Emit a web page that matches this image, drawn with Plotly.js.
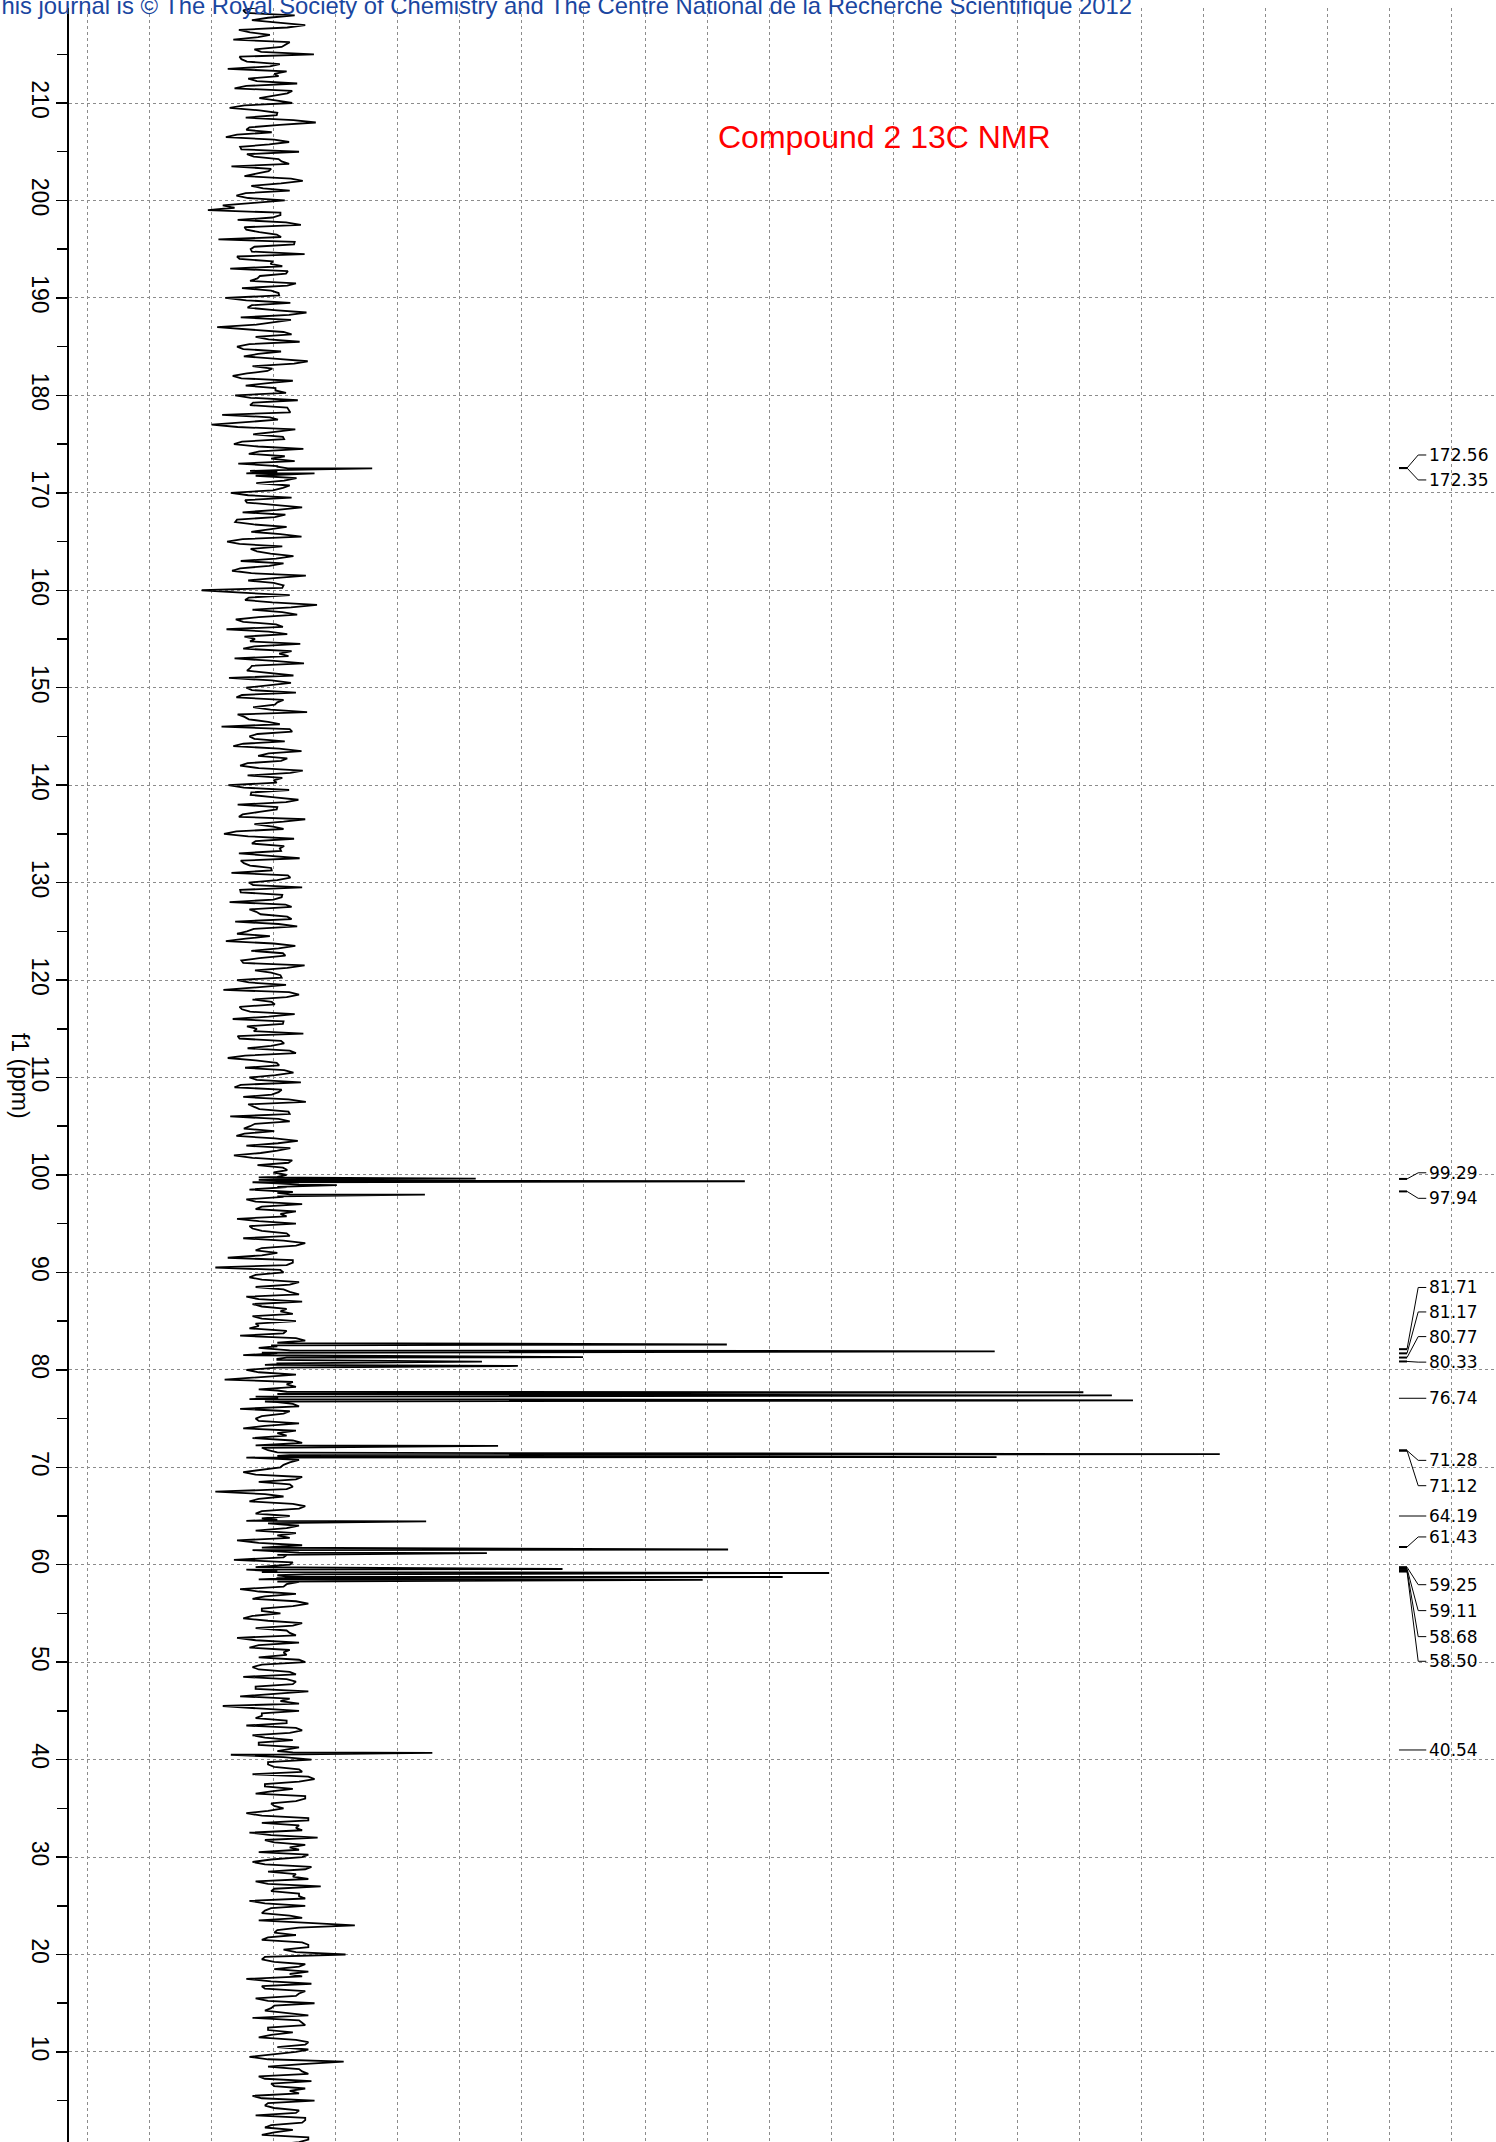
<!DOCTYPE html>
<html>
<head>
<meta charset="utf-8">
<script src="https://cdn.plot.ly/plotly-3.0.1.min.js"></script>
<style>
  html, body { margin: 0; padding: 0; background: #ffffff; }
  #chart { width: 1496px; height: 2142px; }
</style>
</head>
<body>
<div id="chart"></div>
<script>
// ---------------- DATA ----------------
// Baseline noise read from the band: one value every 0.5 ppm from 220 ppm down (intensity, arbitrary units)
const noiseStartPpm = 220;
const noiseStepPpm = 0.5;
const noise = [
  1.2,-3.5,4.8,-2.1,6.5,-4.2,0.8,-5.1,3.3,-1.7,7.9,-3.8,2.4,-6.0,1.5,-2.7,5.2,-4.9,3.6,-0.9,
  4.4,-5.7,2.0,-3.1,8.2,-2.5,1.1,-6.3,3.9,-4.0,5.5,-1.8,2.7,-5.4,0.6,-3.3,6.1,-2.2,4.0,-4.6,
  3.2,-6.8,-9.2,2.5,-4.4,5.8,-3.0,1.9,-7.5,4.7,-2.3,6.4,-4.1,0.9,-5.6,3.4,-1.2,5.0,-3.7,2.2,
  -6.4,4.1,-2.8,6.7,-3.9,1.3,-7.7,3.0,-1.5,5.6,-4.5,2.6,-3.4,6.9,-2.0,0.4,-5.2,4.5,-3.1,1.7,
  -4.8,5.3,-2.4,3.8,-6.9,2.1,-8.6,4.9,-1.9,3.1,-5.0,6.2,-2.6,1.0,-4.3,3.7,-3.0,5.1,-1.4,2.9,
  -5.5,4.3,-2.9,6.0,-3.6,1.6,-4.8,3.5,-2.2,5.9,-6.1,2.8,-1.3,4.6,-3.9,0.7,-5.3,6.6,-2.7,3.0,
  -10.2,4.0,-3.2,8.4,-2.0,5.2,-4.7,1.8,-6.2,3.6,-1.6,5.7,-3.5,2.3,-4.9,6.3,-2.4,1.2,-5.8,4.2,
  -3.0,5.0,-4.6,2.0,-1.9,6.8,-3.3,0.5,-7.0,4.4,-2.5,3.2,-5.1,5.9,-1.1,2.6,-4.0,6.1,-2.8,1.4,
  -5.9,3.9,-2.3,5.4,-4.4,1.9,-3.6,6.5,-1.7,3.0,-6.6,4.7,-2.1,2.4,-4.2,5.6,-3.4,1.0,-5.4,4.1,
  -2.6,6.0,-3.9,2.7,-5.7,4.3,-1.4,3.6,-4.8,5.2,-2.9,0.8,-6.3,4.9,-2.2,3.3,-3.8,6.4,-1.6,2.5,
  -4.5,3.4,-6.7,5.5,-2.0,1.6,-3.7,4.8,-5.2,2.9,-1.3,6.2,-4.1,3.1,-2.8,5.0,-6.0,1.9,-3.2,4.6,
  -2.5,5.8,-4.9,2.2,-3.5,6.6,-1.8,3.8,-5.6,4.0,-2.4,1.5,-4.6,5.3,-3.0,2.0,-5.0,4.4,-1.2,3.6,
  3.5,-1.0,5.5,-2.5,4.0,-3.0,6.0,-1.5,2.5,-4.5,5.0,-2.0,3.5,-3.5,6.5,-0.5,2.0,-6.0,4.5,-8.0,
  3.0,-2.5,5.5,-1.5,4.0,-3.0,6.0,-0.5,2.5,-2.0,5.0,-1.0,3.5,-4.0,6.5,1.0,4.0,-3.5,5.5,0.0,
  -3.0,5.0,-6.5,3.5,-1.0,6.0,-2.5,4.5,-4.0,3.0,-1.5,5.5,-3.5,2.0,-2.0,6.0,-0.5,3.5,-3.0,4.0,
  2.5,-3.5,6.0,-1.0,4.5,-8.0,3.0,-2.5,6.5,-0.5,4.0,-3.0,5.5,-1.5,2.0,-4.5,6.0,-2.0,3.5,-5.0,
  4.0,-3.0,6.5,-1.0,3.5,-4.0,5.0,-2.0,7.0,-0.5,2.5,-3.5,6.0,-1.5,4.0,-4.5,5.5,-2.5,3.0,-1.0,
  6.5,-2.0,4.0,-3.5,5.0,-1.5,7.0,-4.0,2.5,-6.8,5.5,-0.5,3.5,-3.0,6.0,-2.0,4.5,-1.0,3.0,-5.5,
  7.5,0.5,5.5,-2.0,8.0,0.0,4.5,-1.5,6.5,1.0,3.0,-3.0,7.0,-0.5,5.0,-2.5,8.5,1.5,4.0,-1.0,
  6.0,-2.0,7.5,0.5,4.5,-1.5,9.0,1.0,5.5,-2.5,6.5,0.0,4.0,-1.0,14.5,2.0,5.0,-0.5,7.0,3.0,
  13.0,-0.5,6.5,1.5,4.0,-3.0,7.5,0.0,5.5,-1.5,8.0,1.0,3.5,-2.0,6.0,0.5,4.5,-1.0,7.0,2.0,
  5.0,-2.5,12.7,0.5,6.0,-1.0,7.5,1.5,4.0,-2.0,8.0,0.0,5.5,-1.5,6.5,1.0,4.5,-0.5,7.0,2.0
];
// Second set of noise samples, read half-way between the ones above (219.75, 219.25, ... ppm)
const noiseMidStartPpm = 219.75;
const noiseMid = [
  -2.0,-3.1,0.5,1.8,3.6,-2.4,-1.1,4.0,2.7,-0.6,-4.1,-2.9,0.8,3.5,2.2,-1.3,-3.0,4.4,1.6,2.0,
  -3.3,-0.9,1.9,4.6,2.4,-3.0,-4.5,1.5,0.7,-3.8,-2.9,2.2,3.9,1.0,-1.4,4.2,2.6,-0.3,-3.1,-2.7,
  -1.8,-4.9,2.5,1.2,3.4,-3.3,-0.9,2.6,4.8,-1.7,-2.1,-4.5,1.3,2.8,3.7,-0.8,-2.4,3.6,1.0,2.3,
  -3.0,-2.1,1.5,3.9,4.2,-1.4,-2.6,4.3,0.6,-2.5,-3.5,-1.1,2.0,4.7,1.2,-2.9,-3.8,0.5,1.7,3.4,
  -2.3,-1.9,3.6,4.1,0.8,-2.6,-4.4,1.6,2.9,-3.7,-1.1,-0.9,3.2,4.8,2.0,-2.4,-1.5,3.1,4.0,1.3,
  -2.7,-3.2,1.0,2.0,3.3,-4.5,-1.8,0.7,2.5,-3.6,-4.1,-2.3,0.9,1.8,3.0,-4.0,-2.2,1.5,1.4,2.8,
  -3.8,-2.6,1.2,4.2,2.8,-1.0,-3.5,2.9,0.6,-3.3,-2.4,-1.7,4.3,3.8,1.5,-2.1,-2.9,4.6,1.1,0.8,
  -2.1,-3.7,3.0,1.6,0.9,-4.4,-2.6,2.4,4.0,-1.2,-1.7,-3.5,2.3,0.6,3.6,-2.8,-1.0,4.1,2.8,1.9,
  -3.4,-2.2,1.6,3.4,2.0,-0.9,-4.2,3.0,1.3,-4.6,-2.7,-1.5,3.1,2.6,0.8,-3.9,-2.4,1.1,3.7,2.0,
  -1.9,-4.0,2.8,1.4,3.3,-2.5,-0.7,4.3,2.2,-1.8,-4.5,-3.1,1.4,2.2,2.9,-0.9,-3.5,3.6,1.0,2.7,
  -2.6,-1.3,3.9,3.5,1.1,-4.1,-2.4,0.6,3.0,-2.9,-1.8,-4.4,2.6,1.0,4.0,-3.2,-1.5,2.3,3.1,1.7,
  -1.3,-3.9,2.7,1.1,3.8,-2.7,-0.9,4.0,2.2,-1.6,-3.4,-3.3,1.6,2.1,4.1,-0.7,-2.0,3.8,2.9,1.4,
  -1.0,-2.0,3.5,4.5,3.0,-1.5,-0.5,5.0,3.5,-1.0,-2.5,-0.5,4.0,3.0,5.0,-1.5,-0.5,4.5,3.5,2.5,
  -1.5,-0.5,4.0,3.0,5.5,-1.0,-2.0,3.5,4.5,-0.5,-1.5,-2.5,3.0,5.0,4.0,-1.0,-0.5,3.5,4.5,3.0,
  -1.0,-0.5,4.5,5.0,3.5,-1.5,0.0,5.5,4.0,-0.5,-1.0,0.0,5.0,3.5,4.5,-1.5,0.5,4.0,5.5,3.0,
  -0.5,-1.5,5.0,4.0,3.5,0.0,-1.0,4.5,5.5,-1.5,-0.5,0.5,3.5,5.0,4.0,-1.0,-0.5,5.5,3.0,4.5,
  -1.5,-0.5,4.0,5.5,3.0,-1.0,0.0,5.0,4.5,-0.5,-2.0,0.5,4.5,3.5,5.0,-1.5,-1.0,4.0,3.5,5.5,
  -0.5,-1.0,5.0,3.5,4.5,-1.5,0.5,4.0,5.5,-1.0,-0.5,-1.5,3.5,5.0,4.0,0.0,-1.0,5.5,4.5,3.0,
  0.5,1.5,6.0,7.0,5.5,0.0,1.0,6.5,5.0,1.5,0.5,-0.5,7.0,5.5,6.0,1.0,0.0,6.5,5.5,7.0,
  1.0,0.0,6.5,5.0,7.0,0.5,1.5,5.5,6.5,0.0,1.0,-0.5,6.0,7.0,5.5,1.5,0.5,6.0,7.0,5.0,
  0.0,1.5,5.5,7.0,6.0,1.0,-0.5,6.5,5.0,0.5,1.5,0.0,7.0,5.5,6.5,0.5,1.0,5.0,6.5,7.0,
  1.5,0.5,6.0,5.5,7.0,0.0,1.0,6.5,5.5,-0.5,0.5,1.5,5.0,6.5,6.0,0.0,1.5,7.0,5.5,6.0
];

// Peaks as drawn in the spectrum (ppm on the drawn axis, height in the same intensity units)
const peakPpm    = [172.50, 172.00, 99.62, 99.35, 98.95, 97.97, 82.60, 81.90, 81.30, 80.85, 80.40, 77.70, 77.37, 76.86, 72.20, 71.34, 71.05, 64.45, 61.56, 61.20, 59.56, 59.15, 58.74, 58.45, 40.70];
const peakHeight = [17.3,   8.0,    34.0,  77.4,  11.6,  25.8,  74.5,  117.7, 51.3,  35.0,  40.8,  132.0, 136.6, 140.0, 37.6,  154.0, 118.0, 26.0,  74.7,  35.8,  48.0,  91.0,  83.5,  70.6,  27.0];

// Peak-list labels on the right
const peakLabels = ['172.56','172.35','99.29','97.94','81.71','81.17','80.77','80.33','76.74','71.28','71.12','64.19','61.43','59.25','59.11','58.68','58.50','40.54'];

// Axis tick labels
const tickVals = [10,20,30,40,50,60,70,80,90,100,110,120,130,140,150,160,170,180,190,200,210];
const tickText = tickVals.map(String);

// ---------------- LAYOUT HELPERS ----------------
// where each label's text sits (ppm) and the stub its leader starts from (ppm); null = straight line
const labelTextPpm = [173.88,171.32,100.22,97.60,88.45,85.94,83.41,80.79,77.08,70.71,68.11,65.00,62.85,57.95,55.29,52.62,50.09,40.99];
const labelStubPpm = [172.54,172.54,99.59,98.31,82.12,81.69,81.26,80.86,null,71.72,71.72,null,61.82,59.75,59.60,59.45,59.30,null];

const X_STUB0 = 182.9, X_STUB1 = 184.2, X_BEND = 186.0, X_END = 187.3, X_TEXT = 187.6;

// ---------------- BUILD SPECTRUM ----------------
const pts = noise.map((v, i) => [noiseStartPpm - noiseStepPpm * i, v]);
noiseMid.forEach((v, i) => pts.push([noiseMidStartPpm - noiseStepPpm * i, v]));
const peakBase = 2;
const hw = 0.18;
peakPpm.forEach((p, i) => {
  pts.push([p + hw, peakBase], [p, peakHeight[i]], [p - hw, peakBase]);
});
pts.sort((a, b) => b[0] - a[0]);

const spectrum = {
  type: 'scatter',
  mode: 'lines',
  x: pts.map(d => d[1]),
  y: pts.map(d => d[0]),
  line: { color: '#000000', width: 1.8 },
  hoverinfo: 'skip',
  showlegend: false
};

// ---------------- SHAPES & ANNOTATIONS ----------------
const shapes = [];
const annotations = [];

peakLabels.forEach((lab, i) => {
  const ty = labelTextPpm[i];
  const sy = labelStubPpm[i];
  if (sy === null) {
    shapes.push({ type: 'line', xref: 'x', yref: 'y', x0: X_STUB0, x1: X_END, y0: ty, y1: ty, line: { color: '#000', width: 1 } });
  } else {
    shapes.push({ type: 'line', xref: 'x', yref: 'y', x0: X_STUB0, x1: X_STUB1, y0: sy, y1: sy, line: { color: '#000', width: 2 } });
    shapes.push({ type: 'line', xref: 'x', yref: 'y', x0: X_STUB1, x1: X_BEND, y0: sy, y1: ty, line: { color: '#000', width: 1 } });
    shapes.push({ type: 'line', xref: 'x', yref: 'y', x0: X_BEND, x1: X_END, y0: ty, y1: ty, line: { color: '#000', width: 1 } });
  }
  annotations.push({
    xref: 'x', yref: 'y', x: X_TEXT, y: ty, text: lab, showarrow: false,
    xanchor: 'left', yanchor: 'middle', borderpad: 0,
    font: { family: 'DejaVu Sans, Verdana, sans-serif', size: 17, color: '#000' }
  });
});

// chart title (red)
annotations.push({
  xref: 'x', yref: 'y', x: 100.0, y: 206.5, text: 'Compound 2 13C NMR', showarrow: false,
  xanchor: 'center', yanchor: 'middle',
  font: { family: 'Liberation Sans, Arial, sans-serif', size: 32, color: '#ff0000' }
});

// header line of the page (cut at the top edge as in the scan)
annotations.push({
  xref: 'paper', yref: 'paper', x: 0, y: 1, xshift: -84, yshift: 3,
  text: 'This journal is © The Royal Society of Chemistry and The Centre National de la Recherche Scientifique 2012',
  showarrow: false, xanchor: 'left', yanchor: 'middle',
  font: { family: 'Liberation Sans, Arial, sans-serif', size: 23.8, color: '#1a46a0' }
});

// axis title, rotated clockwise
annotations.push({
  xref: 'paper', yref: 'y', x: 0, xshift: -49, y: 110.16, text: 'f1 (ppm)', showarrow: false,
  textangle: 90, xanchor: 'center', yanchor: 'middle',
  font: { family: 'Liberation Sans Narrow, Arial Narrow, Liberation Sans, sans-serif', size: 23, color: '#000' }
});

const layout = {
  width: 1496, height: 2142,
  margin: { l: 69, r: 0, t: 8, b: 0, pad: 0 },
  paper_bgcolor: '#ffffff', plot_bgcolor: '#ffffff',
  showlegend: false,
  xaxis: {
    range: [-31.6, 198.55],
    showticklabels: false, ticks: '', zeroline: false, showline: false,
    showgrid: true, gridcolor: '#8c8c8c', griddash: 'dot', gridwidth: 1,
    tick0: 1.45, dtick: 10, fixedrange: true
  },
  yaxis: {
    range: [0.76, 219.75],
    tickmode: 'array', tickvals: tickVals, ticktext: tickText,
    tickangle: 90, ticks: 'outside', ticklen: 11, tickwidth: 1.5, tickcolor: '#000',
    ticklabelstandoff: -4,
    tickfont: { family: 'Liberation Sans Narrow, Arial Narrow, Liberation Sans, sans-serif', size: 23, color: '#000' },
    minor: { dtick: 5, tick0: 0, ticks: 'outside', ticklen: 10, tickwidth: 1.5, tickcolor: '#000', showgrid: false },
    showline: true, linecolor: '#000', linewidth: 2,
    showgrid: true, gridcolor: '#8c8c8c', griddash: 'dot', gridwidth: 1,
    zeroline: false, fixedrange: true
  },
  shapes: shapes,
  annotations: annotations
};

Plotly.newPlot('chart', [spectrum], layout, { staticPlot: true, displayModeBar: false });
</script>
</body>
</html>
